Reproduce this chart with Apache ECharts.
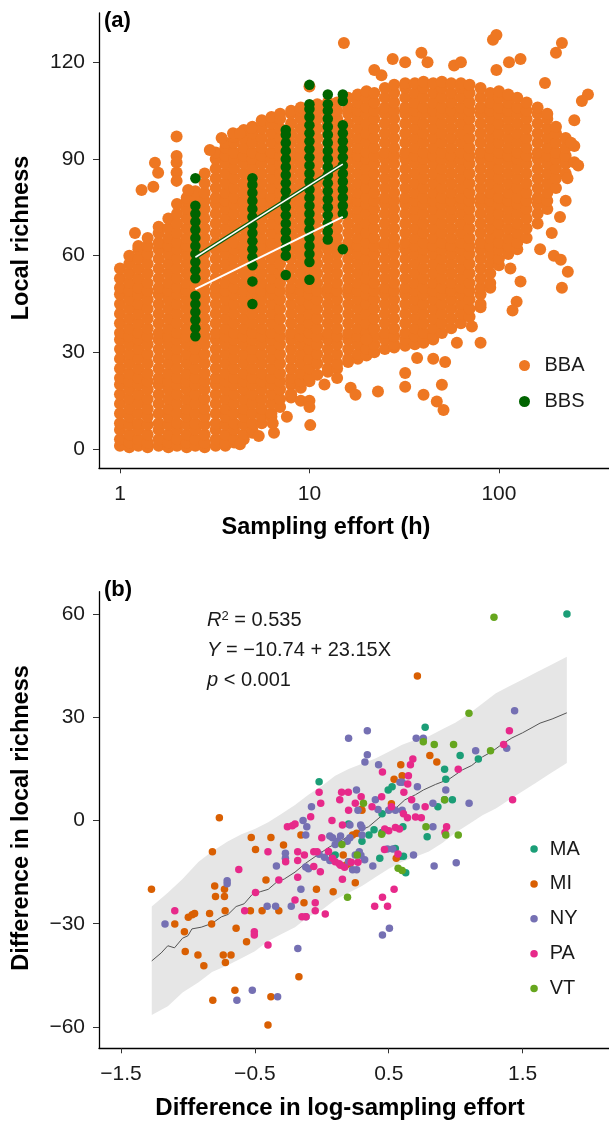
<!DOCTYPE html>
<html><head><meta charset="utf-8">
<script src="https://cdn.jsdelivr.net/npm/echarts@6/dist/echarts.min.js"></script>
<style>html,body{margin:0;padding:0;background:#fff}#c{width:609px;height:1122px}</style>
</head><body><div id="c"></div>
<script>
// ---------- Panel (a) data ----------
const bbaX = [1,1.12,1.25,1.4,1.6,1.8,2,2.25,2.5,2.8,3.2,3.6,4,4.5,5,5.6,6.3,7,8,9,10,11,12.5,14,16,18,20,22,25,28,32,36,40,45,50,56,63,70,80,90,100,112,125,140,160,180,200,225,250];
const bbaY = [
[1,3,6,8,11,14,17,20,22,25,28,31,34,36,39,42,45,48,50,53,56],
[0.5,2,4.5,7.5,10,12.5,15.5,18.5,21,23.5,26.5,29.5,32.5,35,37.5,40.5,43.5,46.5,49,51.5,54.5,57.5,60],
[1,3,6,8,11,14,17,20,22,25,28,31,34,36,39,42,45,48,50,53,56,59,62,63],
[0.5,2,4.5,7.5,10,12.5,15.5,18.5,21,23.5,26.5,29.5,32.5,35,37.5,40.5,43.5,46.5,49,51.5,54.5,57.5,60.5,63,65.5],
[1,3,6,8,11,14,17,20,22,25,28,31,34,36,39,42,45,48,50,53,56,59,62,64,67,69],
[0.5,2,4.5,7.5,10,12.5,15.5,18.5,21,23.5,26.5,29.5,32.5,35,37.5,40.5,43.5,46.5,49,51.5,54.5,57.5,60.5,63,65.5,68.5,71.5],
[1,3,6,8,11,14,17,20,22,25,28,31,34,36,39,42,45,48,50,53,56,59,62,64,67,70,73,76],
[0.5,2,4.5,7.5,10,12.5,15.5,18.5,21,23.5,26.5,29.5,32.5,35,37.5,40.5,43.5,46.5,49,51.5,54.5,57.5,60.5,63,65.5,68.5,71.5,74.5,77,78],
[1,3,6,8,11,14,17,20,22,25,28,31,34,36,39,42,45,48,50,53,56,59,62,64,67,70,73,76,78,80],
[0.5,2,4.5,7.5,10,12.5,15.5,18.5,21,23.5,26.5,29.5,32.5,35,37.5,40.5,43.5,46.5,49,51.5,54.5,57.5,60.5,63,65.5,68.5,71.5,74.5,77,79.5,82.5,85.5],
[1,3,6,8,11,14,17,20,22,25,28,31,34,36,39,42,45,48,50,53,56,59,62,64,67,70,73,76,78,81,84,87,90,92],
[1,2,4.5,7.5,10,12.5,15.5,18.5,21,23.5,26.5,29.5,32.5,35,37.5,40.5,43.5,46.5,49,51.5,54.5,57.5,60.5,63,65.5,68.5,71.5,74.5,77,79.5,82.5,85.5,88.5,91,93.5,95],
[2,3,6,8,11,14,17,20,22,25,28,31,34,36,39,42,45,48,50,53,56,59,62,64,67,70,73,76,78,81,84,87,90,92,95,97],
[3,4.5,7.5,10,12.5,15.5,18.5,21,23.5,26.5,29.5,32.5,35,37.5,40.5,43.5,46.5,49,51.5,54.5,57.5,60.5,63,65.5,68.5,71.5,74.5,77,79.5,82.5,85.5,88.5,91,93.5,96.5,99],
[5,6,8,11,14,17,20,22,25,28,31,34,36,39,42,45,48,50,53,56,59,62,64,67,70,73,76,78,81,84,87,90,92,95,98,100],
[8,10,12.5,15.5,18.5,21,23.5,26.5,29.5,32.5,35,37.5,40.5,43.5,46.5,49,51.5,54.5,57.5,60.5,63,65.5,68.5,71.5,74.5,77,79.5,82.5,85.5,88.5,91,93.5,96.5,99.5,102],
[10,11,14,17,20,22,25,28,31,34,36,39,42,45,48,50,53,56,59,62,64,67,70,73,76,78,81,84,87,90,92,95,98,101,103],
[13,15.5,18.5,21,23.5,26.5,29.5,32.5,35,37.5,40.5,43.5,46.5,49,51.5,54.5,57.5,60.5,63,65.5,68.5,71.5,74.5,77,79.5,82.5,85.5,88.5,91,93.5,96.5,99.5,102.5,104],
[16,17,20,22,25,28,31,34,36,39,42,45,48,50,53,56,59,62,64,67,70,73,76,78,81,84,87,90,92,95,98,101,104,105],
[19,21,23.5,26.5,29.5,32.5,35,37.5,40.5,43.5,46.5,49,51.5,54.5,57.5,60.5,63,65.5,68.5,71.5,74.5,77,79.5,82.5,85.5,88.5,91,93.5,96.5,99.5,102.5,105,106],
[21,22,25,28,31,34,36,39,42,45,48,50,53,56,59,62,64,67,70,73,76,78,81,84,87,90,92,95,98,101,104,106],
[23,26.5,29.5,32.5,35,37.5,40.5,43.5,46.5,49,51.5,54.5,57.5,60.5,63,65.5,68.5,71.5,74.5,77,79.5,82.5,85.5,88.5,91,93.5,96.5,99.5,102.5,105,107],
[24,25,28,31,34,36,39,42,45,48,50,53,56,59,62,64,67,70,73,76,78,81,84,87,90,92,95,98,101,104,106,107.5],
[25,26.5,29.5,32.5,35,37.5,40.5,43.5,46.5,49,51.5,54.5,57.5,60.5,63,65.5,68.5,71.5,74.5,77,79.5,82.5,85.5,88.5,91,93.5,96.5,99.5,102.5,105,107.5],
[27,28,31,34,36,39,42,45,48,50,53,56,59,62,64,67,70,73,76,78,81,84,87,90,92,95,98,101,104,106,109],
[28,29.5,32.5,35,37.5,40.5,43.5,46.5,49,51.5,54.5,57.5,60.5,63,65.5,68.5,71.5,74.5,77,79.5,82.5,85.5,88.5,91,93.5,96.5,99.5,102.5,105,107.5,110],
[29,31,34,36,39,42,45,48,50,53,56,59,62,64,67,70,73,76,78,81,84,87,90,92,95,98,101,104,106,109,111],
[30,32.5,35,37.5,40.5,43.5,46.5,49,51.5,54.5,57.5,60.5,63,65.5,68.5,71.5,74.5,77,79.5,82.5,85.5,88.5,91,93.5,96.5,99.5,102.5,105,107.5,110.5],
[31,34,36,39,42,45,48,50,53,56,59,62,64,67,70,73,76,78,81,84,87,90,92,95,98,101,104,106,109,112],
[31.5,32.5,35,37.5,40.5,43.5,46.5,49,51.5,54.5,57.5,60.5,63,65.5,68.5,71.5,74.5,77,79.5,82.5,85.5,88.5,91,93.5,96.5,99.5,102.5,105,107.5,110.5,113],
[32,34,36,39,42,45,48,50,53,56,59,62,64,67,70,73,76,78,81,84,87,90,92,95,98,101,104,106,109,112,113.5],
[32.5,35,37.5,40.5,43.5,46.5,49,51.5,54.5,57.5,60.5,63,65.5,68.5,71.5,74.5,77,79.5,82.5,85.5,88.5,91,93.5,96.5,99.5,102.5,105,107.5,110.5,113.5],
[33,34,36,39,42,45,48,50,53,56,59,62,64,67,70,73,76,78,81,84,87,90,92,95,98,101,104,106,109,112,114],
[34,35,37.5,40.5,43.5,46.5,49,51.5,54.5,57.5,60.5,63,65.5,68.5,71.5,74.5,77,79.5,82.5,85.5,88.5,91,93.5,96.5,99.5,102.5,105,107.5,110.5,113.5],
[36,39,42,45,48,50,53,56,59,62,64,67,70,73,76,78,81,84,87,90,92,95,98,101,104,106,109,112,114],
[37.5,40.5,43.5,46.5,49,51.5,54.5,57.5,60.5,63,65.5,68.5,71.5,74.5,77,79.5,82.5,85.5,88.5,91,93.5,96.5,99.5,102.5,105,107.5,110.5,113.5],
[39,42,45,48,50,53,56,59,62,64,67,70,73,76,78,81,84,87,90,92,95,98,101,104,106,109,112,113.5],
[41,43.5,46.5,49,51.5,54.5,57.5,60.5,63,65.5,68.5,71.5,74.5,77,79.5,82.5,85.5,88.5,91,93.5,96.5,99.5,102.5,105,107.5,110.5,113],
[44,45,48,50,53,56,59,62,64,67,70,73,76,78,81,84,87,90,92,95,98,101,104,106,109,112],
[50,51.5,54.5,57.5,60.5,63,65.5,68.5,71.5,74.5,77,79.5,82.5,85.5,88.5,91,93.5,96.5,99.5,102.5,105,107.5,110.5],
[57,59,62,64,67,70,73,76,78,81,84,87,90,92,95,98,101,104,106,109,111],
[60.5,63,65.5,68.5,71.5,74.5,77,79.5,82.5,85.5,88.5,91,93.5,96.5,99.5,102.5,105,107.5,110],
[62,64,67,70,73,76,78,81,84,87,90,92,95,98,101,104,106,109],
[65.5,68.5,71.5,74.5,77,79.5,82.5,85.5,88.5,91,93.5,96.5,99.5,102.5,105,107.5],
[70,73,76,78,81,84,87,90,92,95,98,101,104,106],
[74.5,77,79.5,82.5,85.5,88.5,91,93.5,96.5,99.5,102.5,104],
[81,84,87,90,92,95,98,100],
[85.5,88.5,91,93.5,96.5],
[89,94]
];
const bbaScatter = [[1.3,80.4],[1.5,81.4],[1.53,88.8],[1.59,85.7],[1.2,67],[1.99,97],[1.99,90.9],[1.99,88.9],[1.99,85.8],[1.99,83.2],[2.29,80.4],[2.98,92.8],[3.44,96.5],[3.95,98],[4.3,98],[4.95,99.6],[10,112.5],[15.2,126],[22,117.6],[24,116],[27.5,121],[32,120],[39,123],[42,120],[58,119],[63,120],[93,127],[97,128.5],[97,117.6],[113,120],[130,121],[175,113.6],[200,123],[215,126],[295,110],[274,108],[250,102],[240,95],[262,88],[230,84],[225,77],[210,72],[190,67],[165,62],[195,60],[212,58.7],[231,55],[215,50],[115,56],[130,52],[124,45.7],[118,43],[80,33],[6.5,5],[6.4,8],[8,17],[9,15],[10,15],[10,13],[10.1,7.4],[16.5,19],[17.5,16.8],[20,34],[23,17.8],[32,23.6],[32,19.3],[37,28.2],[40,16.8],[47,14.7],[51,12.1],[50,19.9],[52,27],[45,28],[60,33],[72,38],[4.3,1.5],[5.4,4],[7.6,10],[12,20],[14,22]];
const bbsX = [2.5,5,7.5,10,12.5,15];
const bbsY = [
[35,37.5,40,42.5,45,47.5,53,55.5,58,60.5,63,65.5,68,70.5,73,75.5,84],
[45,52,57,59.5,62,64.5,67,69.5,72,74.5,77,79.5,82,84],
[54,60,62.5,65,67.5,70,72.5,75,77.5,80,82.5,85,87.5,90,92.5,95,97.5,99],
[52.5,58,60.5,63,65.5,68,70.5,73,75.5,78,80.5,83,85.5,88,90.5,93,95.5,98,100.5,103,105.5,107,113],
[65,67.5,70,72.5,75,77.5,80,82.5,85,87.5,90,92.5,95,97.5,100,102.5,105,107,110],
[62,73,75.5,78,80.5,83,85.5,88,90.5,93,95.5,98,100.5,108,110]
];
const bbsFit = [[2.5,59.5],[15,88.4]];
const bbaFit = [[2.5,49.6],[15,72]];

// ---------- Panel (b) data ----------
const maPts = [[1.831,60],[0.772,27.1],[1.033,18.9],[1.169,17.9],[0.917,14.9],[0.926,12],[-0.02,11.3],[0.525,9.8],[0.496,8.9],[0.917,6],[0.975,6],[0.867,4],[0.787,-4.7],[0.352,-4.2],[0.549,-8.1],[0.606,-1.8],[0.584,-10.4],[0.627,-15.2],[0.433,-11],[0.1,-10],[0.3,-6],[0.45,2],[0.2,-1],[0.45,-3.5],[0.39,-2.7],[0.61,-10.4],[0.08,-10.5]];
const miPts = [[0.714,42],[0.807,18.9],[0.859,17],[0.59,16.2],[0.54,12],[0.294,3.2],[0.52,4.9],[-0.765,0.8],[-1.272,-20],[-1.098,-30.1],[-1.026,-32.3],[-1.02,-38.1],[-0.997,-28.1],[-0.968,-27.4],[-0.95,-27],[-0.925,-39.1],[-0.881,-42.2],[-0.817,-9.1],[-0.814,-52.2],[-0.838,-27],[-0.823,-30.1],[-0.8,-19],[-0.794,-22.1],[-0.736,-39.1],[-0.72,-41.3],[-0.678,-39.1],[-0.727,-22.1],[-0.727,-20],[-0.722,-26.2],[-0.64,-31.3],[-0.649,-49.3],[-0.562,-35.2],[-0.527,-4.9],[-0.495,-8.4],[-0.533,-26.2],[-0.446,-26.2],[-0.417,-17.3],[-0.402,-59.4],[-0.38,-4.9],[-0.38,-51.2],[-0.321,-26.2],[-0.286,-7.1],[-0.171,-45.4],[-0.133,-23.9],[-0.156,-4.2],[-0.04,-20],[0.085,-20.7],[0.16,-10],[0.18,-13],[0.25,-18.1],[0.556,-11],[0.3,3],[0.6,13],[0.2,-12],[0.21,-12.6],[0.23,-4.2],[0.26,-3.7]];
const nyPts = [[1.44,31.9],[0.705,23.9],[0.758,23.9],[0.2,23.9],[0.34,26.1],[1.381,21],[1.149,20.3],[0.34,19.1],[0.322,17],[0.424,16.2],[0.584,11.1],[0.6,11.1],[0.714,9.8],[0.259,8.9],[0.926,8.9],[1.1,5],[-0.077,4],[0.705,4],[0.83,5],[-0.14,0],[-0.112,-1.8],[0.83,-1.8],[-1.171,-30.1],[-0.707,-17.5],[-0.707,-18.4],[-0.634,-52.2],[-0.519,-49.3],[-0.408,-24.9],[-0.345,-24.9],[-0.339,-13.2],[-0.33,-51.2],[-0.272,-9.5],[-0.272,-11],[-0.228,-24.9],[-0.179,-37.2],[-0.156,-20],[-0.118,-28],[-0.12,-13.5],[-0.1,-14],[0.08,-5],[0.1,-7],[0.12,-6],[0.2,-12],[0.25,-10],[0.292,-10.1],[0.381,-13.2],[0.453,-33.3],[0.505,-31.3],[0.49,-8.3],[0.53,-8.3],[0.685,-10],[0.839,-13.2],[1.004,-12.3],[0.5,3],[0.55,3],[0.6,3],[0.4,6],[0.3,-2],[0.27,3],[0.42,3.2],[0.21,-1.3],[0.29,-1.3],[0.06,-4.5],[0.14,-4.5],[-0.12,-4.2],[-0.02,-9.8],[0.02,-10.7],[0.06,-11.6],[0.19,-6],[0.21,-5],[0.23,-14.3],[0.26,-14.3],[0.28,-9.1],[0.32,-11.4],[0.3,-4.2]];
const paPts = [[1.401,26.1],[1.358,22.1],[0.68,17.9],[0.662,16.2],[1.019,14.9],[0.453,14.1],[0.647,13],[0.642,10.6],[0.148,8.2],[0.198,8.2],[-0.02,8.2],[0.613,8.2],[0.294,6.9],[0.447,6.9],[1.425,6],[0.671,6],[0.134,6],[-0.008,5],[0.772,4],[0.375,4],[-0.083,1.1],[0.076,0],[0.154,-1.3],[0.743,0.8],[-0.257,-1.8],[-0.22,-1.5],[-0.2,-1],[0.932,-1.8],[-1.098,-26.2],[-0.62,-14.2],[-0.576,-26.2],[-0.504,-32.3],[-0.504,-33.3],[-0.495,-20.9],[-0.402,-9.1],[-0.402,-36.2],[-0.321,-17.3],[-0.27,-12],[-0.2,-23.1],[-0.18,-9.1],[-0.18,-11.6],[-0.18,-16.5],[-0.148,-28],[-0.118,-28],[-0.06,-9.1],[-0.06,-13.4],[-0.049,-23.9],[-0.049,-26.2],[-0.011,-14.9],[0.026,-27.2],[0.05,-9],[0.08,-11],[0.1,-12],[0.14,-13],[0.154,-17.1],[0.395,-24.9],[0.453,-22.3],[0.491,-24.9],[0.468,-8.4],[0.5,-3],[0.55,-2],[0.569,-9.7],[0.54,-20],[0.2,3],[0.25,5],[0.0,-5],[0.52,4],[0.61,2],[0.7,1],[0.64,0.8],[0.92,-3.5],[-0.13,-10],[-0.035,-9.1],[0.17,-13.6],[0.13,-12.6],[0.22,-12.1],[0.27,-12.1],[0.47,-2.5],[0.58,-2.5]];
const vtPts = [[1.286,59.1],[1.099,31.2],[0.758,22.9],[0.84,22.1],[0.984,22.1],[1.26,20.3],[0.917,6],[0.311,5],[0.778,-1.8],[0.926,-4.2],[1.019,-4.2],[0.192,-22.3],[0.265,-10],[0.447,-4],[0.57,-13.9],[0.6,-14.5],[0.15,-7]];
const bandX  = [-1.27,-1.15,-1.04,-0.92,-0.82,-0.7,-0.6,-0.5,-0.4,-0.3,-0.2,-0.1,0,0.1,0.2,0.3,0.4,0.5,0.6,0.7,0.8,0.9,1.0,1.1,1.2,1.3,1.4,1.5,1.6,1.7,1.83];
const bandHi = [-25,-21,-17,-12,-9,-6,-4,-2.5,-0.5,2,4.5,7.5,10,13,15,16.5,18,20,22,23.5,24.5,26.5,28.5,31,34,37,39,41,43,45,47.6];
const bandLo = [-56.5,-54,-50,-47,-44,-42,-40,-38,-35,-33,-31,-28,-26,-23,-21,-19,-16.5,-14,-12,-10.5,-9,-6.5,-3.5,-1,1.5,3.5,6,8.5,11,13.5,16.7];
const regLine = [[-1.27,-40.8],[-1.2,-38.5],[-1.15,-36.4],[-1.1,-37],[-1.04,-34.2],[-1.0,-33.5],[-0.97,-31.5],[-0.9,-31],[-0.82,-29.9],[-0.75,-28],[-0.7,-27.3],[-0.64,-25],[-0.58,-24.2],[-0.52,-21.5],[-0.46,-20.7],[-0.4,-20],[-0.34,-18],[-0.28,-17],[-0.2,-15],[-0.12,-12.4],[-0.05,-10.5],[0.06,-7.6],[0.12,-6.5],[0.2,-4.5],[0.28,-3],[0.35,-1.8],[0.42,0.5],[0.47,2.1],[0.55,3.5],[0.62,6],[0.7,7.5],[0.76,8.9],[0.85,10.5],[0.95,12],[1.05,14.7],[1.12,16],[1.2,18.5],[1.27,20],[1.34,22],[1.42,24],[1.5,25.5],[1.57,27],[1.63,28.3],[1.72,29.5],[1.83,31.3]];

const xTicksA = [1,10,100];
const yTicksA = [0,30,60,90,120];
const xTicksB = [-1.5,-0.5,0.5,1.5];
const yTicksB = [-60,-30,0,30,60];

// ---------- build ----------
const bbaPts = [];
bbaX.forEach((x,i)=>bbaY[i].forEach(y=>bbaPts.push([x,y])));
bbaScatter.forEach(p=>bbaPts.push(p));
const bbsPts = [];
bbsX.forEach((x,i)=>bbsY[i].forEach(y=>bbsPts.push([x,y])));
const bandData = bandX.map((x,i)=>[x,bandLo[i],bandHi[i]]);

const FONT = '"Liberation Sans", Arial, sans-serif';
const minus = v => String(v).replace('-', '\u2212');
const axisCommon = {
  axisLine:{show:true,onZero:false,lineStyle:{color:'#000',width:1.3}},
  splitLine:{show:false}
};
function mkX(grid,type,min,max,ticks){
  return Object.assign({}, axisCommon, {gridIndex:grid,type:type,min:min,max:max,
    axisTick:{show:true,length:5,customValues:ticks,lineStyle:{color:'#333'}},
    axisLabel:{customValues:ticks,fontSize:21,margin:15,color:'#1a1a1a',fontFamily:FONT,formatter:v=>minus(v)}});
}
function mkY(grid,min,max,ticks){
  return Object.assign({}, axisCommon, {gridIndex:grid,type:'value',min:min,max:max,
    axisTick:{show:true,length:6,customValues:ticks,lineStyle:{color:'#333'}},
    axisLabel:{customValues:ticks,fontSize:21,margin:14,color:'#1a1a1a',fontFamily:FONT,formatter:v=>minus(v)}});
}
const dark2 = ['#1B9E77','#D95F02','#7570B3','#E7298A','#66A61E'];
const stateNames = ['MA','MI','NY','PA','VT'];
const stateData = [maPts,miPts,nyPts,paPts,vtPts];

const chart = echarts.init(document.getElementById('c'), null, {renderer:'canvas'});
const option = {
  animation:false,
  backgroundColor:'#fff',
  textStyle:{fontFamily:FONT},
  grid:[{left:99,top:13,width:510,height:455.3},{left:99,top:591.7,width:510,height:456.6}],
  xAxis:[mkX(0,'log',0.775,381,xTicksA), mkX(1,'value',-1.664,2.145,xTicksB)],
  yAxis:[mkY(0,-6,135.3,yTicksA), mkY(1,-66.2,66.5,yTicksB)],
  legend:[
    {data:['BBA','BBS'],orient:'vertical',left:514,top:350.5,itemWidth:30,itemHeight:11,itemGap:16,icon:'circle',
     selectedMode:false,textStyle:{fontSize:20,color:'#1a1a1a',fontFamily:FONT}},
    {data:stateNames,orient:'vertical',left:525.3,top:834,itemWidth:21.4,itemHeight:7.5,itemGap:14.9,icon:'circle',
     selectedMode:false,textStyle:{fontSize:20,color:'#1a1a1a',fontFamily:FONT}}
  ],
  graphic:[
    {type:'text',left:104,top:10,style:{text:'(a)',fontSize:22,fontWeight:'bold',fontFamily:FONT,fill:'#000'}},
    {type:'text',left:104,top:579,style:{text:'(b)',fontSize:22,fontWeight:'bold',fontFamily:FONT,fill:'#000'}},
    {type:'text',x:22,y:238,rotation:Math.PI/2,style:{text:'Local richness',fontSize:23.5,fontWeight:'bold',fontFamily:FONT,fill:'#000',align:'center',verticalAlign:'middle'}},
    {type:'text',x:22,y:818,rotation:Math.PI/2,style:{text:'Difference in local richness',fontSize:23.5,fontWeight:'bold',fontFamily:FONT,fill:'#000',align:'center',verticalAlign:'middle'}},
    {type:'text',x:326,y:528,style:{text:'Sampling effort (h)',fontSize:23.5,fontWeight:'bold',fontFamily:FONT,fill:'#000',align:'center',verticalAlign:'middle'}},
    {type:'text',x:340,y:1108,style:{text:'Difference in log-sampling effort',fontSize:24,fontWeight:'bold',fontFamily:FONT,fill:'#000',align:'center',verticalAlign:'middle'}},
    {type:'text',x:207,y:620,style:{text:'{i|R}{s|2}{n| = 0.535}',verticalAlign:'middle',
      rich:{i:{fontSize:20,fontStyle:'italic',fontFamily:FONT,fill:'#1a1a1a'},s:{fontSize:13,verticalAlign:'top',fontFamily:FONT,fill:'#1a1a1a'},n:{fontSize:20,fontFamily:FONT,fill:'#1a1a1a'}}}},
    {type:'text',x:207,y:650,style:{text:'{i|Y}{n| = \u221210.74 + 23.15X}',verticalAlign:'middle',
      rich:{i:{fontSize:20,fontStyle:'italic',fontFamily:FONT,fill:'#1a1a1a'},n:{fontSize:20,fontFamily:FONT,fill:'#1a1a1a'}}}},
    {type:'text',x:207,y:680,style:{text:'{i|p}{n| < 0.001}',verticalAlign:'middle',
      rich:{i:{fontSize:20,fontStyle:'italic',fontFamily:FONT,fill:'#1a1a1a'},n:{fontSize:20,fontFamily:FONT,fill:'#1a1a1a'}}}}
  ],
  series:[
    {name:'BBA',type:'scatter',xAxisIndex:0,yAxisIndex:0,data:bbaPts,symbolSize:12,itemStyle:{color:'#EE7722',opacity:1},silent:true,z:2,large:false},
    {name:'BBS',type:'scatter',xAxisIndex:0,yAxisIndex:0,data:bbsPts,symbolSize:10.5,itemStyle:{color:'#006400',opacity:1},silent:true,z:3},
    {type:'line',xAxisIndex:0,yAxisIndex:0,data:bbsFit,symbol:'none',lineStyle:{color:'#0b5e0b',width:4},z:4,silent:true},
    {type:'line',xAxisIndex:0,yAxisIndex:0,data:bbsFit,symbol:'none',lineStyle:{color:'#ffffff',width:1.5},z:5,silent:true},
    {type:'line',xAxisIndex:0,yAxisIndex:0,data:bbaFit,symbol:'none',lineStyle:{color:'#ffffff',width:2},z:4,silent:true},
    {type:'custom',xAxisIndex:1,yAxisIndex:1,data:bandData,z:1,silent:true,
      renderItem:function(params,api){
        if(params.dataIndex!==0) return null;
        const pts=[];
        for(let i=0;i<bandData.length;i++) pts.push(api.coord([bandData[i][0],bandData[i][2]]));
        for(let i=bandData.length-1;i>=0;i--) pts.push(api.coord([bandData[i][0],bandData[i][1]]));
        return {type:'polygon',shape:{points:pts},style:{fill:'#E6E6E6'}};
      }},
    {type:'line',xAxisIndex:1,yAxisIndex:1,data:regLine,symbol:'none',lineStyle:{color:'#555',width:1},z:2,silent:true}
  ].concat(stateNames.map((n,i)=>({name:n,type:'scatter',xAxisIndex:1,yAxisIndex:1,data:stateData[i],symbolSize:7.5,
      itemStyle:{color:dark2[i],opacity:1},z:3,silent:true})))
};
chart.setOption(option);
</script></body></html>
